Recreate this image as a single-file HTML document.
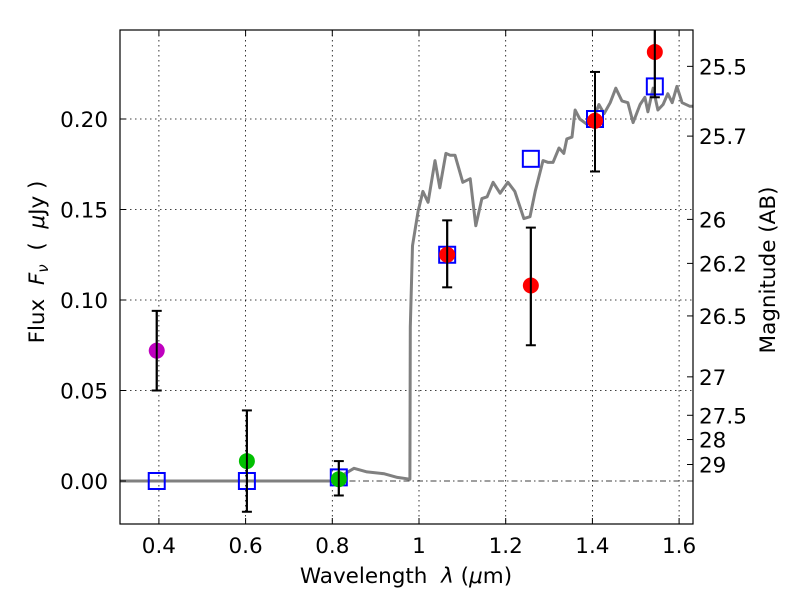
<!DOCTYPE html>
<html><head><meta charset="utf-8"><style>
body{margin:0;background:#fff;}
svg{font-family:"DejaVu Sans","Liberation Sans",sans-serif;}
.pre{white-space:pre;}
</style></head><body>
<svg id="chart" width="800" height="600" xmlns="http://www.w3.org/2000/svg">
<rect width="800" height="600" fill="#fff"/>
<g id="grid"></g>
<g id="spec"></g>
<g id="marks"></g>
<g id="axes"></g>
</svg>
<script>
const xTicks=[0.4,0.6,0.8,1.0,1.2,1.4,1.6];
const xTickLabels=["0.4","0.6","0.8","1","1.2","1.4","1.6"];
const yTicks=[0,0.05,0.10,0.15,0.20];
const yTickLabels=["0.00","0.05","0.10","0.15","0.20"];
const magTicks=[25.5,25.7,26,26.2,26.5,27,27.5,28,29];
const magLabels=["25.5","25.7","26","26.2","26.5","27","27.5","28","29"];
const specWave=[0.31,0.80,0.815,0.85,0.88,0.92,0.95,0.979,0.98,0.985,0.998,1.009,1.021,1.037,1.048,1.062,1.072,1.083,1.101,1.118,1.131,1.145,1.157,1.171,1.187,1.205,1.221,1.228,1.242,1.256,1.268,1.286,1.298,1.309,1.323,1.334,1.341,1.353,1.360,1.371,1.388,1.401,1.415,1.427,1.441,1.454,1.468,1.482,1.494,1.510,1.521,1.528,1.540,1.551,1.563,1.574,1.584,1.595,1.607,1.625,1.64];
const specFlux=[0,0,0.002,0.007,0.005,0.004,0.002,0.001,0.085,0.13,0.149,0.160,0.154,0.177,0.162,0.181,0.180,0.180,0.165,0.167,0.141,0.156,0.157,0.165,0.159,0.165,0.160,0.155,0.145,0.146,0.160,0.177,0.176,0.176,0.184,0.181,0.189,0.190,0.205,0.200,0.197,0.199,0.208,0.203,0.209,0.217,0.210,0.209,0.198,0.208,0.212,0.204,0.217,0.205,0.208,0.214,0.209,0.218,0.209,0.207,0.207];
const ptWave=[0.395,0.603,0.815,1.065,1.258,1.406,1.544];
const ptFlux=[0.072,0.011,0.001,0.125,0.108,0.199,0.237];
const ptLo=[0.050,-0.017,-0.008,0.107,0.075,0.171,0.212];
const ptHi=[0.094,0.039,0.011,0.144,0.140,0.226,0.26];
const ptColor=["#bf00bf","#00c000","#00c000","#ff0000","#ff0000","#ff0000","#ff0000"];
const sqFlux=[0,0,0.002,0.125,0.178,0.200,0.218];

const L=120,R=693,T=30,B=524;
const X=v=>419+(v-1)*433.5;
const Y=f=>481-f*1810;
const NS="http://www.w3.org/2000/svg";
function mk(parent,tag,attrs,text){const e=document.createElementNS(NS,tag);for(const k in attrs)e.setAttribute(k,attrs[k]);if(text!==undefined)e.textContent=text;parent.appendChild(e);return e;}
const grid=document.getElementById('grid'),spec=document.getElementById('spec'),marks=document.getElementById('marks'),axes=document.getElementById('axes');
mk(grid,'defs',{}).innerHTML='<clipPath id="cp"><rect x="120" y="30" width="573" height="494"/></clipPath>';
xTicks.forEach((v,i)=>{
 const g=mk(grid,'line',{x1:X(v),x2:X(v),y1:T,y2:B,stroke:'#000','stroke-width':0.8,'stroke-dasharray':'1.5,3.5'});
 
 
 mk(axes,'line',{x1:X(v),x2:X(v),y1:B,y2:B-6,stroke:'#000'});
 mk(axes,'line',{x1:X(v),x2:X(v),y1:T,y2:T+6,stroke:'#000'});
 const t=mk(axes,'text',{x:X(v),y:B+29,'font-size':21.5,'text-anchor':'middle'},xTickLabels[i]);
 
 
});
yTicks.forEach((v,i)=>{
 if(v!==0){const g=mk(grid,'line',{x1:L,x2:R,y1:Y(v),y2:Y(v),stroke:'#000','stroke-width':0.8,'stroke-dasharray':'1.5,3.5'});
 
 }
 mk(axes,'line',{x1:L,x2:L+6,y1:Y(v),y2:Y(v),stroke:'#000'});
 const t=mk(axes,'text',{x:108,y:Y(v)+8,'font-size':21.5,'text-anchor':'end'},yTickLabels[i]);
 
 
});
const zl=mk(grid,'line',{x1:L,x2:R,y1:Y(0),y2:Y(0),stroke:'#000','stroke-width':0.8,'stroke-dasharray':'6,3,1.5,3'});


magTicks.forEach((m,i)=>{
 const f=Math.pow(10,(23.9-m)/2.5);
 mk(axes,'line',{x1:R,x2:R-6,y1:Y(f),y2:Y(f),stroke:'#000'});
 const t=mk(axes,'text',{x:699,y:Y(f)+8,'font-size':21.5},magLabels[i]);
 
 
});
let d=specWave.map((w,i)=>(i?'L':'M')+X(w).toFixed(1)+','+Y(specFlux[i]).toFixed(1)).join('');
const sp=mk(spec,'path',{d:d,fill:'none',stroke:'#808080','stroke-width':3,'stroke-linejoin':'round','clip-path':'url(#cp)'});


const mg=mk(marks,'g',{'clip-path':'url(#cp)'});
ptWave.forEach((w,i)=>{
 const x=X(w);
 const e=mk(mg,'g',{});
 
 
 mk(e,'line',{x1:x,x2:x,y1:Y(ptLo[i]),y2:Y(ptHi[i]),stroke:'#000','stroke-width':2});
 mk(e,'line',{x1:x-5,x2:x+5,y1:Y(ptLo[i]),y2:Y(ptLo[i]),stroke:'#000','stroke-width':2});
 mk(e,'line',{x1:x-5,x2:x+5,y1:Y(ptHi[i]),y2:Y(ptHi[i]),stroke:'#000','stroke-width':2});
});
ptWave.forEach((w,i)=>{
 const s=mk(mg,'rect',{x:X(w)-8,y:Y(sqFlux[i])-8,width:16,height:16,fill:'none',stroke:'#0000ff','stroke-width':2});
 
 
});
ptWave.forEach((w,i)=>{
 const c=mk(mg,'circle',{cx:X(w),cy:Y(ptFlux[i]),r:8,fill:ptColor[i]});
 
 
});
ptWave.forEach((w,i)=>{
 const x=X(w);
 mk(mg,'line',{x1:x,x2:x,y1:Y(ptLo[i]),y2:Y(ptHi[i]),stroke:'#000','stroke-width':2});
});
const fr=mk(axes,'rect',{x:L,y:T,width:R-L,height:B-T,fill:'none',stroke:'#000','stroke-width':1.2});


const xt=mk(axes,'text',{x:406,y:583,'font-size':21.5,'text-anchor':'middle','class':'pre'});
xt.innerHTML='Wavelength  <tspan font-style="italic">λ</tspan> (<tspan font-style="italic">μ</tspan>m)';


const yt=mk(axes,'text',{x:0,y:0,'font-size':21.5,'text-anchor':'middle',transform:'translate(44,262) rotate(-90)','class':'pre'});
yt.innerHTML='Flux  <tspan font-style="italic">F</tspan><tspan font-style="italic" font-size="15" dy="4">ν</tspan><tspan dy="-4">  (  </tspan><tspan font-style="italic">μ</tspan>Jy )';


const rt=mk(axes,'text',{x:0,y:0,'font-size':21.5,'text-anchor':'middle',transform:'translate(775,270) rotate(-90)'},'Magnitude (AB)');


</script>
</body></html>
